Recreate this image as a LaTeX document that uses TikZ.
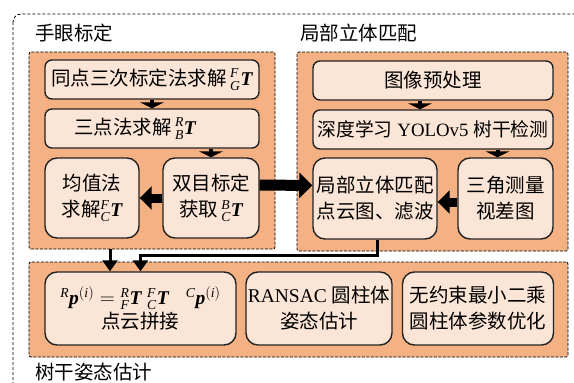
\documentclass[tikz,border=0pt]{standalone}
\usepackage{amsmath}
\usepackage{fontspec}
\setmainfont{Liberation Serif}
\newfontfamily\cjk{Noto Sans CJK SC}
\usetikzlibrary{arrows.meta,calc}
\definecolor{grpfill}{RGB}{244,177,131}
\definecolor{boxfill}{RGB}{251,229,214}
\definecolor{boxline}{RGB}{35,35,35}
\newcommand{\BT}{\text{\bfseries\itshape T}}
\newcommand{\Bp}{\text{\bfseries\itshape p}}
\newcommand{\pre}[2]{{}^{\mathit{#1}}_{\mathit{#2}}}
\tikzset{
  outerbox/.style={draw=black, line width=0.8pt, dash pattern=on 3pt off 2pt, rounded corners=8pt},
  grp/.style={draw=black, fill=grpfill, line width=0.8pt, dash pattern=on 3pt off 1.5pt, rounded corners=2pt, inner sep=0pt},
  stage/.style={draw=boxline, fill=boxfill, line width=1.4pt, inner sep=1pt, align=center,
    font=\fontsize{19.5}{26}\selectfont},
  flat/.style={stage, rounded corners=7pt},
  tall/.style={stage, rounded corners=12pt},
  lbl/.style={anchor=west, inner sep=0pt, font=\fontsize{19.5}{24}\selectfont\cjk},
  smallarr/.style={line width=4pt, -{Triangle[width=24pt,length=6pt]}},
  midarr/.style={line width=9pt, -{Triangle[width=23pt,length=12pt]}},
  bigarr/.style={line width=11pt, -{Triangle[width=25pt,length=13pt]}},
  flowarr/.style={line width=3pt, -{Triangle[width=15pt,length=11pt]}},
}
\begin{document}
\begin{tikzpicture}[x=1pt,y=-1pt]
\useasboundingbox (0,0) rectangle (574,383);
\fill[white] (0,0) rectangle (574,383);
% outer frame
\draw[outerbox] (13,14) rectangle (600,410);
% group labels
\node[lbl] (lhand) at (35,33) {手眼标定};
\node[lbl] (lmatch) at (300,33) {局部立体匹配};
\node[lbl] (lpose) at (35,372) {树干姿态估计};
% groups
\node[grp, minimum width=246pt, minimum height=197pt] (gleft) at (152,150.5) {};
\node[grp, minimum width=271pt, minimum height=199pt] (gright) at (432.5,151.5) {};
\node[grp, minimum width=539pt, minimum height=95pt] (gbottom) at (298.5,309.5) {};
% left group boxes
\node[flat, minimum width=214pt, minimum height=39pt] (b1) at (152,79.5)
  {{\cjk 同点三次标定法求解}\,$\pre{F}{G}\BT$};
\node[flat, minimum width=214pt, minimum height=39pt] (b2) at (152,128.5)
  {{\cjk 三点法求解}\,$\pre{R}{B}\BT$\hspace*{34pt}};
\node[tall, minimum width=94pt, minimum height=80pt] (b3) at (92,198)
  {{\cjk 均值法}\\{\cjk 求解}$\pre{F}{C}\BT$};
\node[tall, minimum width=96pt, minimum height=80pt] (b4) at (211,198)
  {{\cjk 双目标定}\\{\cjk 获取}\,$\pre{B}{C}\BT$};
% right group boxes
\node[flat, minimum width=240pt, minimum height=39pt] (b5) at (433,80.5)
  {\cjk 图像预处理};
\node[flat, minimum width=240pt, minimum height=39pt, font=\fontsize{18.8}{26}\selectfont] (b6) at (433,129.5)
  {{\cjk 深度学习} YOLOv5 {\cjk 树干检测}};
\node[tall, minimum width=124pt, minimum height=81pt] (b7) at (375,198.5)
  {{\cjk 局部立体匹配}\\{\cjk 点云图、滤波}};
\node[tall, minimum width=95pt, minimum height=81pt] (b8) at (505.5,198.5)
  {{\cjk 三角测量}\\{\cjk 视差图}};
% bottom group boxes
\node[tall, minimum width=191pt, minimum height=73pt] (b9) at (140.5,308.5)
  {${}^{\mathit{R}}\Bp^{(\mathit{i})} = \pre{R}{F}\BT\;\pre{F}{C}\BT\;\;\;{}^{\mathit{C}}\Bp^{(\mathit{i})}$\\[-2pt]{\cjk 点云拼接}};
\node[tall, minimum width=146pt, minimum height=73pt] (b10) at (319,308.5)
  {RANSAC {\cjk 圆柱体}\\{\cjk 姿态估计}};
\node[tall, minimum width=151pt, minimum height=73pt] (b11) at (478,308.5)
  {{\cjk 无约束最小二乘}\\{\cjk 圆柱体参数优化}};
% connectors
\draw[smallarr] (b1.south) -- (b2.north);
\draw[smallarr] (b2.south -| b4.north) -- (b4.north);
\draw[midarr] (b4.west) -- (b3.east);
\draw[bigarr] ([yshift=13pt]b4.east) -- ([yshift=13pt]b7.west);
\draw[smallarr] ([xshift=-13pt]b5.south) -- ([xshift=-13pt]b6.north);
\draw[smallarr] ([xshift=-8pt]b8.north |- b6.south) -- ([xshift=-8pt]b8.north);
\draw[midarr] ([yshift=-3.5pt]b8.west) -- ([yshift=-3.5pt]b7.east);
\draw[flowarr] ([xshift=-30.5pt]b9.north |- gleft.south) -- ([xshift=-30.5pt]b9.north);
\coordinate (turn) at (377,255);
\draw[flowarr] (b7.south -| turn) -- (turn) -| (b9.north);
\end{tikzpicture}
\end{document}
